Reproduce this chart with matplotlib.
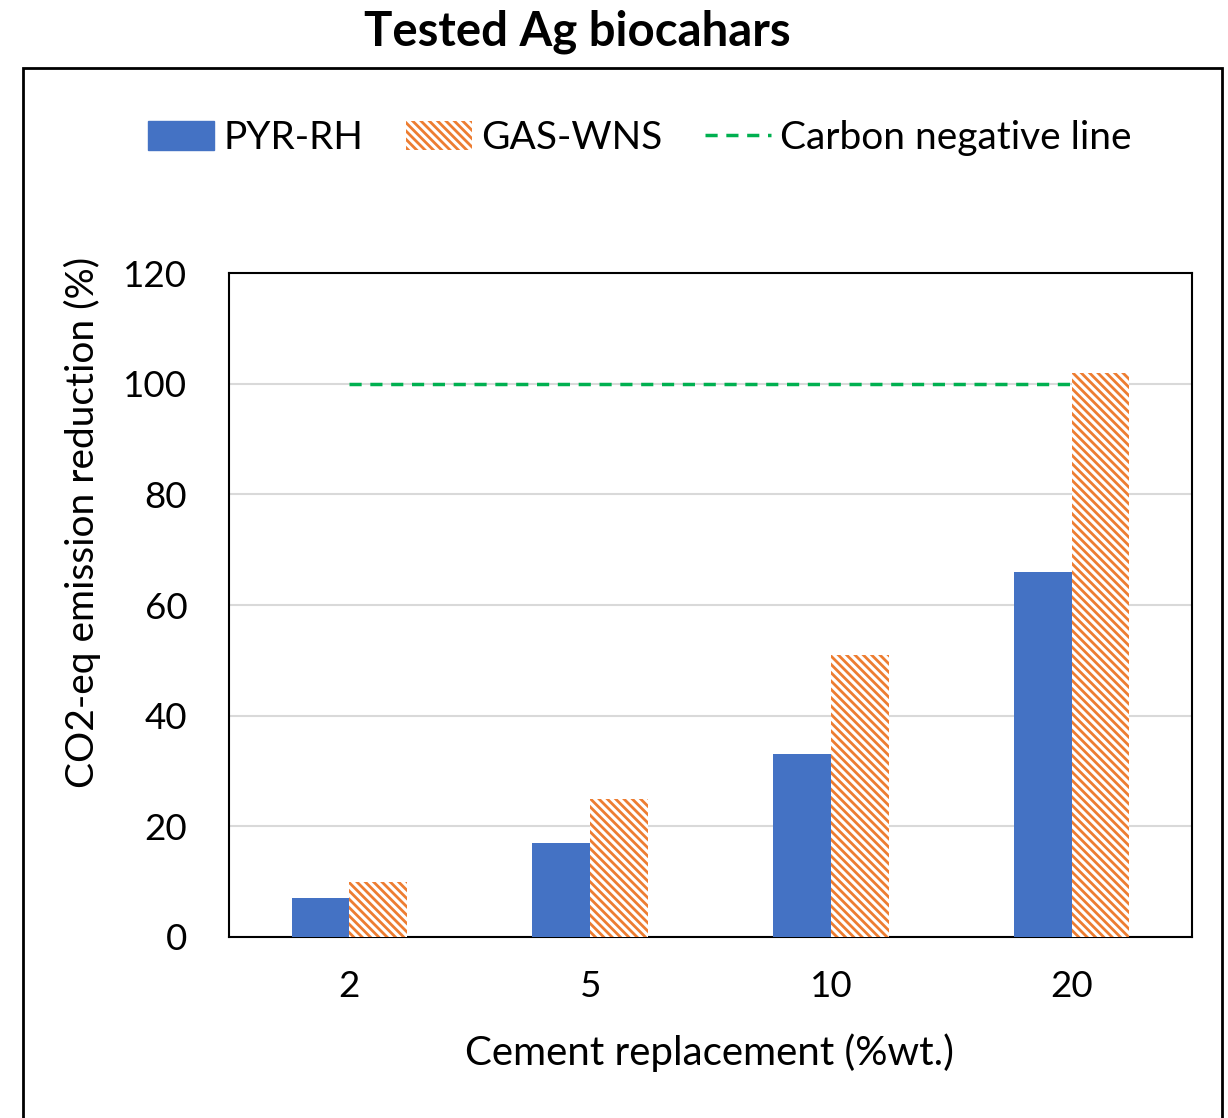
import matplotlib.pyplot as plt
from matplotlib.patches import Rectangle
from matplotlib.lines import Line2D
import numpy as np

# data
categories = ['2', '5', '10', '20']
pyr_rh = [7, 17, 33, 66]
gas_wns = [10, 25, 51, 102]
carbon_negative = [100, 100, 100, 100]

plt.rcParams['font.family'] = ['Lato', 'DejaVu Sans']
plt.rcParams['hatch.linewidth'] = 2.0

blue = '#4472C4'
orange = '#ED7D31'
green = '#00B050'
hatch = '\\' * 4

fig = plt.figure(figsize=(12.28, 11.18), dpi=100)
ax = fig.add_axes([0.1865, 0.1619, 0.7842, 0.5939])

x = np.arange(len(categories))
w = 0.24
ax.bar(x - w / 2, pyr_rh, w, color=blue, label='PYR-RH', zorder=3)
ax.bar(x + w / 2, gas_wns, w, color='white', edgecolor=orange, linewidth=0,
       hatch=hatch, label='GAS-WNS', zorder=3)
ax.plot(x, carbon_negative, color=green, ls=(0, (3.5, 2.5)), lw=2.5,
        label='Carbon negative line', zorder=4)

ax.set_xlim(-0.5, len(categories) - 0.5)
ax.set_ylim(0, 120)
ax.set_yticks(np.arange(0, 121, 20))
ax.set_xticks(x)
ax.set_xticklabels(categories)
ax.tick_params(length=0, labelsize=26.5)
ax.tick_params(axis='y', pad=30)
ax.tick_params(axis='x', pad=24)
ax.grid(axis='y', color='#D9D9D9', lw=1.5, zorder=0)
for s in ax.spines.values():
    s.set_color('black')
    s.set_linewidth(1.5)

fig.text(0.067, 0.533, 'CO2-eq emission reduction (%)', rotation=90,
         ha='center', va='center', fontsize=28)
fig.text(0.5775, 0.058, 'Cement replacement (%wt.)', ha='center', va='center',
         fontsize=29)
fig.text(0.47, 0.972, 'Tested Ag biocahars', ha='center', va='center',
         fontsize=34, fontweight='bold')

# legend
handles = [Rectangle((0, 0), 1, 1, color=blue),
           Rectangle((0, 0), 1, 1, facecolor='white', edgecolor=orange, lw=0, hatch=hatch),
           Line2D([], [], color=green, ls=(0, (3.5, 2.5)), lw=2.5)]
fig.legend(handles, ['PYR-RH', 'GAS-WNS', 'Carbon negative line'],
           loc='center', bbox_to_anchor=(0.521, 0.8766), ncol=3, frameon=False,
           fontsize=28, handlelength=1.7, handleheight=0.75, handletextpad=0.23,
           columnspacing=1.1)

# outer chart border
fig.patches.append(Rectangle((0.0187, -0.1), 0.9765, 1.039, transform=fig.transFigure,
                             fill=False, edgecolor='black', lw=2, clip_on=False))

fig.savefig('out.png', dpi=100)
